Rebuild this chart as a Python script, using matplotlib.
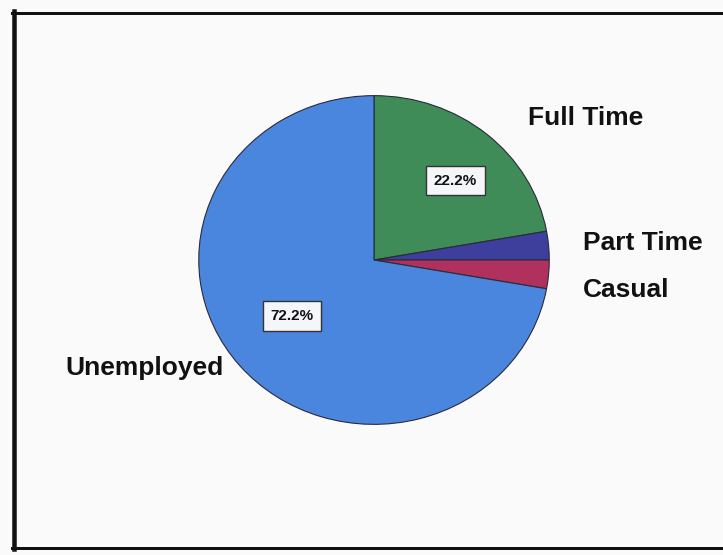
import matplotlib
matplotlib.use("Agg")
import matplotlib.pyplot as plt
from matplotlib.lines import Line2D
import numpy as np

# employment status breakdown (percent)
categories = ["Full Time", "Part Time", "Casual", "Unemployed"]
shares = [22.2, 2.8, 2.8, 72.2]
colors = ["#3f8c58", "#3e3f9c", "#b0305e", "#4b86de"]
# only the two large slices carry a value box
show_value = [True, False, False, True]
value_dist = [0.67, 0.0, 0.0, 0.58]
value_turn = [-4, 0, 0, -4]

W, H = 723, 555
plt.rcParams['font.family'] = ['Liberation Sans', 'DejaVu Sans']

fig = plt.figure(figsize=(W / 100, H / 100), dpi=100, facecolor="#fafafa")


def fx(px):
    return px / W


def fy(py):
    return 1 - py / H


# pie occupies a slightly wide box, giving the stretched ellipse
cx, cy, rx, ry = 374, 260, 177, 166
ax = fig.add_axes([fx(cx - rx), fy(cy + ry), 2 * rx / W, 2 * ry / H])
wedges, _ = ax.pie(shares, colors=colors, startangle=90, counterclock=False,
                   radius=1.0,
                   wedgeprops=dict(edgecolor="#2a2a3a", linewidth=0.8))
ax.set_aspect("auto")
ax.set_xlim(-1.01, 1.01)
ax.set_ylim(-1.01, 1.01)
ax.axis("off")

for w, v, show, d, turn in zip(wedges, shares, show_value, value_dist,
                               value_turn):
    if not show:
        continue
    mid = np.deg2rad((w.theta1 + w.theta2) / 2 + turn)
    ax.text(d * np.cos(mid), d * np.sin(mid), f"{v:.1f}%",
            ha="center", va="center", fontsize=11, fontweight="bold",
            color="#111111",
            bbox=dict(boxstyle="square,pad=0.5", facecolor="#f4f6fa",
                      edgecolor="#333333", linewidth=1.0))

# category names beside the pie
label_pos = {
    "Full Time": (528, 118),
    "Part Time": (583, 243),
    "Casual": (583, 290),
    "Unemployed": (65, 368),
}
for name in categories:
    x, y = label_pos[name]
    fig.text(fx(x), fy(y), name, ha="left", va="center",
             fontsize=19, fontweight="bold", color="#111111")

# outer frame: top, left and bottom rules
frame = [
    ((12, W), (12.5, 12.5), 3),
    ((14, 14), (11, 549), 4.5),
    ((12, W), (547.5, 547.5), 3),
]
for xs, ys, lw in frame:
    fig.add_artist(Line2D([fx(xs[0]), fx(xs[1])], [fy(ys[0]), fy(ys[1])],
                          transform=fig.transFigure, color="#111111",
                          linewidth=lw * 0.72))

fig.savefig("out.png", dpi=100, facecolor=fig.get_facecolor())
